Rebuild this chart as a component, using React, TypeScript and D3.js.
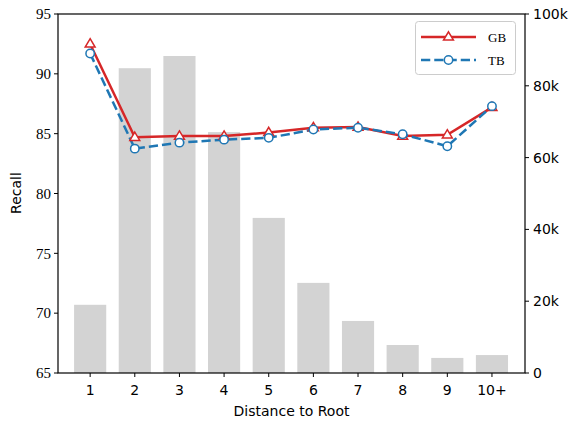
import React from "react";
import * as d3 from "d3";

const categories = ["1", "2", "3", "4", "5", "6", "7", "8", "9", "10+"];
const counts = [19000, 84900, 88300, 67100, 43200, 25100, 14500, 7800, 4200, 5000];
const gbRecall = [92.5, 84.7, 84.8, 84.8, 85.1, 85.5, 85.55, 84.8, 84.9, 87.2];
const tbRecall = [91.7, 83.75, 84.25, 84.5, 84.65, 85.35, 85.5, 84.95, 83.95, 87.3];
const leftTicks = [65, 70, 75, 80, 85, 90, 95];
const rightTicks = [0, 20000, 40000, 60000, 80000, 100000];

const W = 574, H = 425;
const L = 58, R = 525, T = 14, B = 373;

export default function App() {
  const x = d3.scaleLinear().domain([-0.72, 9.74]).range([L, R]);
  const yL = d3.scaleLinear().domain([65, 95]).range([B, T]);
  const yR = d3.scaleLinear().domain([0, 100000]).range([B, T]);
  const barW = x(0.72) - x(0);
  const line = d3.line<number>().x((_, i) => x(i)).y((d) => yL(d));
  const serif = "'Liberation Serif', 'DejaVu Serif', serif";
  const sans = "'DejaVu Sans', sans-serif";
  const red = "#d62728", blue = "#1f77b4";
  const tri = (cx: number, cy: number, s: number) =>
    `M${cx},${cy - s} L${cx + s * 0.95},${cy + s * 0.6} L${cx - s * 0.95},${cy + s * 0.6} Z`;
  const lx0 = 421, lx1 = 476;
  return (
    <svg width={W} height={H} style={{ position: "absolute", left: 0, top: 0 }}>
      <rect width={W} height={H} fill="white" />
      {counts.map((c, i) => (
        <rect key={i} x={x(i) - barW / 2} y={yR(c)} width={barW} height={B - yR(c)} fill="#d3d3d3" />
      ))}
      <path d={line(gbRecall) || ""} fill="none" stroke={red} strokeWidth={2.5} />
      <path d={line(tbRecall) || ""} fill="none" stroke={blue} strokeWidth={2.5} strokeDasharray="9.25,4" />
      {gbRecall.map((v, i) => (
        <path key={"g" + i} d={tri(x(i), yL(v), 5.2)} fill="white" stroke={red} strokeWidth={1.5} />
      ))}
      {tbRecall.map((v, i) => (
        <circle key={"t" + i} cx={x(i)} cy={yL(v)} r={4.2} fill="white" stroke={blue} strokeWidth={1.5} />
      ))}
      <rect x={L} y={T} width={R - L} height={B - T} fill="none" stroke="black" strokeWidth={1.2} />
      {leftTicks.map((t) => (
        <g key={"l" + t}>
          <line x1={L - 4} x2={L} y1={yL(t)} y2={yL(t)} stroke="black" strokeWidth={1} />
          <text x={L - 7} y={yL(t)} dy="0.35em" textAnchor="end" fontFamily={serif} fontSize={15}>{t}</text>
        </g>
      ))}
      {rightTicks.map((t) => (
        <g key={"r" + t}>
          <line x1={R} x2={R + 4} y1={yR(t)} y2={yR(t)} stroke="black" strokeWidth={1} />
          <text x={R + 8} y={yR(t)} dy="0.35em" textAnchor="start" fontFamily={sans} fontSize={14}>
            {t === 0 ? "0" : `${t / 1000}k`}
          </text>
        </g>
      ))}
      {categories.map((c, i) => (
        <g key={"x" + c}>
          <line x1={x(i)} x2={x(i)} y1={B} y2={B + 4} stroke="black" strokeWidth={1} />
          <text x={x(i)} y={B + 22} textAnchor="middle" fontFamily={sans} fontSize={14}>{c}</text>
        </g>
      ))}
      <text x={(L + R) / 2} y={416} textAnchor="middle" fontFamily={sans} fontSize={14}>Distance to Root</text>
      <text transform={`translate(21,193) rotate(-90)`} textAnchor="middle" fontFamily={sans} fontSize={14}>Recall</text>
      <rect x={415.5} y={21.5} width={100} height={53} rx={3} fill="white" fillOpacity={0.8} stroke="#cccccc" strokeWidth={1} />
      <line x1={lx0} x2={lx1} y1={37} y2={37} stroke={red} strokeWidth={2.5} />
      <path d={tri((lx0 + lx1) / 2, 37, 5.2)} fill="white" stroke={red} strokeWidth={1.5} />
      <line x1={lx0} x2={lx1} y1={60} y2={60} stroke={blue} strokeWidth={2.5} strokeDasharray="9.25,4" />
      <circle cx={(lx0 + lx1) / 2} cy={60} r={4.2} fill="white" stroke={blue} strokeWidth={1.5} />
      <text x={488} y={37} dy="0.35em" fontFamily={serif} fontSize={13}>GB</text>
      <text x={488} y={60} dy="0.35em" fontFamily={serif} fontSize={13}>TB</text>
    </svg>
  );
}
